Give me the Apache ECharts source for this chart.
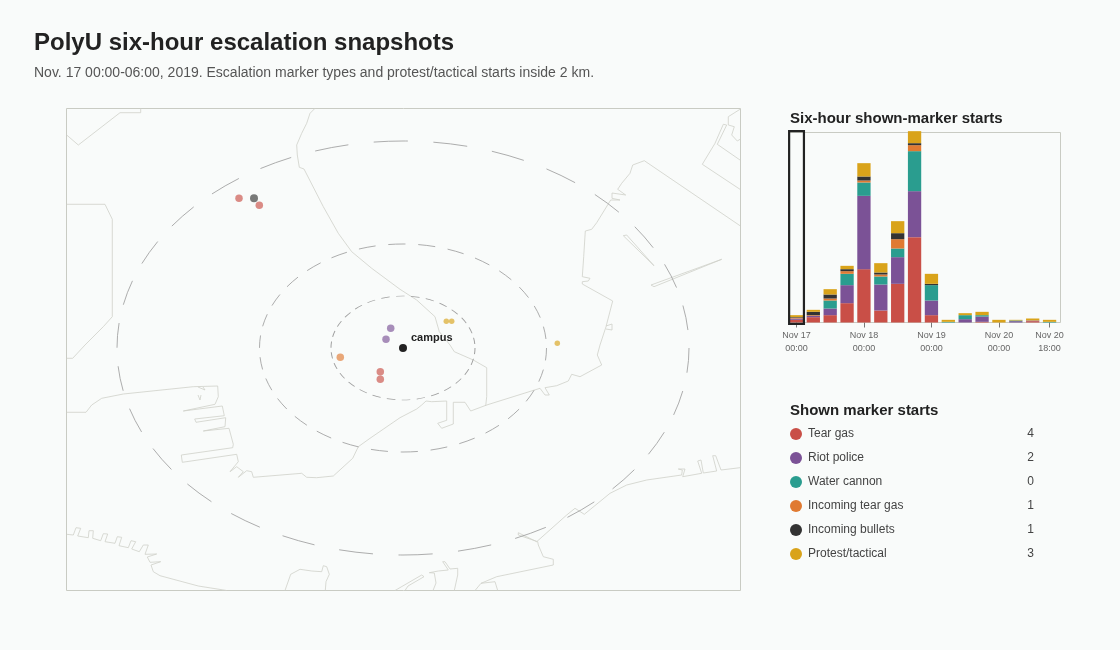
<!DOCTYPE html>
<html>
<head>
<meta charset="utf-8">
<style>html,body{margin:0;padding:0;background:#f9fbfa}#c{width:1120px;height:650px}</style>
<script src="https://cdn.jsdelivr.net/npm/echarts@6/dist/echarts.min.js"></script>
</head>
<body>
<div id="c"></div>
<script>
const markerTypes = ['Tear gas','Riot police','Water cannon','Incoming tear gas','Incoming bullets','Protest/tactical'];
const markerColors = ['#c94f47','#7b5296','#2a9d8f','#e07a32','#333333','#d9a31a'];
const markerDotSizes = [7.5,7.5,7.5,7.5,8,5.5];
const shownCounts = [4,2,0,1,1,3];

const binStarts = ['Nov 17\n00:00','Nov 17\n06:00','Nov 17\n12:00','Nov 17\n18:00',
  'Nov 18\n00:00','Nov 18\n06:00','Nov 18\n12:00','Nov 18\n18:00',
  'Nov 19\n00:00','Nov 19\n06:00','Nov 19\n12:00','Nov 19\n18:00',
  'Nov 20\n00:00','Nov 20\n06:00','Nov 20\n12:00','Nov 20\n18:00'];
const tearGasBins     = [4,8,11,29,80,18,58,128,11,0,0,1,0,0,2,0];
const riotPoliceBins  = [2,2,10,27,110,39,40,69,22,0,5,8,0,2,1,0];
const waterCannonBins = [0,0,12,17,20,12,13,60,23,1,6,2,0,1,0,1];
const incomingGasBins = [1,1,3,4,3,3,14,9,0,0,0,0,0,0,0,0];
const incomingBulBins = [1,5,6,3,6,3,9,3,2,0,0,0,0,0,0,0];
const protestBins     = [3,3,8,5,20,14,18,18,15,3,3,5,4,1,3,3];
const binSeries = [tearGasBins,riotPoliceBins,waterCannonBins,incomingGasBins,incomingBulBins,protestBins];
const binTickIndex = [0,4,8,12,15];
const highlightedBins = [0];

const tearGasPts  = [[239,198.3],[259.3,205.3],[380.3,371.7],[380.3,379.3]];
const riotPts     = [[390.7,328.3],[386,339.3]];
const waterPts    = [];
const inGasPts    = [[340.3,357.3]];
const inBulletPts = [[254,198.3]];
const protestPts  = [[446.3,321.3],[451.7,321.3],[557.3,343.3]];
const markerPts = [tearGasPts,riotPts,waterPts,inGasPts,inBulletPts,protestPts];
const campusPt = [403,348];
const rings = [[403,348,72,52],[403,348,143.5,104],[403,348,286,207]];

const mapLines = [
 [[66.7,135],[78.3,145],[120,112.7],[140.7,112.7],[140.7,108.3]],
 [[66.7,204.3],[105,204.3],[112.3,219.3],[112.3,316.7],[103.3,326.7],[85,345],[72.7,358.3],[66.7,358.3]],
 [[315,108.3],[310,113.3],[306.7,123.3],[301.7,133.3],[296.7,145],[297.3,155],[299.3,167.3],[304,169],[323.3,206.7],[338.3,233.3],[351.7,251.7],[371.7,268.3],[400,289.3],[416.7,300],[435,316.7],[439.3,331.7],[450,345],[454.3,351.7],[473.3,360],[486.7,367.7],[486.7,396.7],[485.7,406]],
 [[740,109.3],[728.3,116.7],[728.3,125],[734.3,126.7],[731.7,135],[737.3,141],[740,139.3]],
 [[740,160],[717.3,144.3],[726.7,125],[723.3,124.3],[715,143.3],[702.3,164.3],[740,189.3]],
 [[740,225.7],[644.3,160.7],[632.7,165],[630,173.3],[621.7,183.3],[617.7,189.3],[625.7,195],[612,193],[612,198.3],[620,200],[610.7,200],[596.7,222.7],[591.7,229.3],[585.3,231],[583.7,256.7],[582.3,276.7],[590,278.3],[588.3,281],[582.3,281.7],[582.3,284],[612.7,301],[606,326.7],[600,345],[597.3,355],[601.7,365],[580,376.7],[571.7,374.3],[568.3,381],[556.7,385.7],[545,387.7],[549.3,395],[545,395],[540,388.3],[486.7,405],[470.7,411],[465,402.3],[453.3,402.3],[453.3,424],[441.7,428.3],[437.7,423.3],[446.7,420.3],[446.7,401],[431.7,401.7],[426,401],[421.7,405],[416.7,409],[400,417.7],[370,438.3],[358.3,446.7],[352.7,458.3],[333.3,476],[316.7,477.7],[306.7,477.3],[301.7,473.3],[253.3,477.3],[251.7,471.7],[246.7,470.7],[238.3,477.3],[243.3,471.7],[236.7,466.7],[230,471.7],[238.3,461.7],[236.7,454.3],[182.3,462.3],[181.3,455],[232.7,447.7],[233.3,444.3],[229,428.3],[203.3,431],[225,426.7],[225.7,417.7],[196,422.3],[194.7,419],[224.3,415.7],[222.3,406],[183.3,411],[183.3,409],[215,404.3],[218.3,396.7],[217.7,386],[193.3,386.7],[123.3,394],[101.7,398.3],[91.7,405],[86,412.3],[66.7,412.3]],
 [[198,395],[200,400],[201,395]],
 [[198,387],[205,390],[203,387]],
 [[66.7,534.3],[73.3,535],[76,527.7],[80.7,528.3],[77.7,536],[88.3,537.7],[89,530.7],[93.3,530.7],[92.7,538.3],[100.7,540.7],[103.3,533.7],[107.7,534],[105,541.7],[115,543.3],[117.3,536.7],[121.7,537.3],[119,545.7],[128.3,547.7],[131,540.7],[135.7,541.7],[131.7,549],[139.3,551.7],[143.3,545],[148.3,545],[145,554.3],[156.7,554],[157.3,555.7],[147.3,557],[150,562.3],[160.7,561.7],[161.7,563.3],[151,565],[153.3,571.7],[160,575.7],[198.3,586],[226.7,590.5]],
 [[285,590.5],[290.7,574.3],[300,569.3],[311.7,571],[321.7,571.7],[323.3,565.7],[326.7,566.7],[329.3,574.3],[326,581.7],[325.3,590.5]],
 [[395,590.5],[421.7,575],[424,576.7],[408,586],[405,590.5]],
 [[433,590.5],[436,583],[434.3,573],[429.3,572.7],[438.3,571],[448.3,570],[442.7,561.7],[445,561.7],[450,569],[457.7,568.3],[457.7,575],[454.3,590.5]],
 [[475,590.5],[481,583.3],[496.7,576.7],[553.3,565],[553.3,559.3],[543.3,556.7],[538.3,545],[537.7,541.7],[518.3,535],[518.3,532.7],[536.7,541.7],[566.7,515],[575,508.3],[584.3,514.3],[610,493.3],[626.7,485],[646.7,480],[681.7,475],[682.3,470],[678.3,469],[685,469],[682.7,476.7],[701.7,473.3],[697.7,461],[701,460],[703.3,473],[716.7,471],[712.7,455.7],[715.7,455.7],[721,470],[740,467.7]],
 [[481,583.3],[495,581.7],[497.7,590.5]],
 [[623.3,235.7],[626.7,235],[654,265.7],[652.7,267.7],[623.3,235.7]],
 [[651,285],[721.7,259.3],[721.7,261.3],[654,286.7],[651,285]],
 [[606,326],[612,324],[612,330],[606,329]]
];

const INK = '#222222', FRAME = '#c9cbc3', COAST = '#cfd1c9', FONT = '"Liberation Sans", Arial, sans-serif';
const series = [];

binSeries.forEach((vals, k) => series.push({
  type:'bar', name:markerTypes[k], xAxisIndex:1, yAxisIndex:1, stack:'bins', barWidth:13.3, clip:false,
  itemStyle:{color:markerColors[k]}, data:vals, silent:true
}));
series.push({
  type:'custom', xAxisIndex:1, yAxisIndex:1, silent:true, clip:false, z:5,
  data:highlightedBins.map(i=>[i,0]), encode:{x:0,y:1},
  renderItem(params, api){
    const p = api.coord([api.value(0),0]);
    return {type:'rect', shape:{x:p[0]-7.4+0.1, y:131.2, width:14.8, height:p[1]+1.4-131.2},
      style:{fill:'none', stroke:INK, lineWidth:2.2}};
  }
});
mapLines.forEach(line => series.push({
  type:'line', xAxisIndex:0, yAxisIndex:0, data:line, symbol:'none', silent:true, z:1,
  lineStyle:{color:COAST, width:0.8}
}));
series.push({
  type:'custom', xAxisIndex:0, yAxisIndex:0, silent:true, z:2, data:rings, encode:{x:0,y:1},
  renderItem(params, api){
    const c = api.coord([api.value(0),api.value(1)]);
    const s = api.size([api.value(2),api.value(3)]);
    const sx = s[0]/100, sy = s[1]/100;
    return {type:'circle', x:c[0], y:c[1], scaleX:sx, scaleY:sy, shape:{cx:0,cy:0,r:100},
      style:{fill:'none', stroke:'#9f9f9f', lineWidth:0.85/Math.sqrt(sx*sy), lineDash:[12,8.944]}};
  }
});
markerPts.forEach((pts,k) => series.push({
  type:'scatter', name:markerTypes[k], xAxisIndex:0, yAxisIndex:0, data:pts, symbolSize:markerDotSizes[k], silent:true, z:3,
  itemStyle:{color:markerColors[k], opacity:0.65}
}));
series.push({
  type:'scatter', xAxisIndex:0, yAxisIndex:0, data:[campusPt], symbolSize:8, silent:true, z:4,
  itemStyle:{color:INK, opacity:1},
  label:{show:true, position:'right', formatter:'campus', offset:[-1,-10], color:INK, fontSize:11, fontWeight:'bold', fontFamily:FONT}
});

const chart = echarts.init(document.getElementById('c'), null, {renderer:'canvas'});
chart.setOption({
  animation:false,
  backgroundColor:'#f9fbfa',
  textStyle:{fontFamily:FONT},
  title:[
    {text:'PolyU six-hour escalation snapshots', left:29, top:26, textStyle:{fontSize:24, fontWeight:'bold', color:INK, fontFamily:FONT}},
    {text:'Nov. 17 00:00-06:00, 2019. Escalation marker types and protest/tactical starts inside 2 km.', left:29, top:61, textStyle:{fontSize:14, fontWeight:'normal', color:'#555555', fontFamily:FONT}},
    {text:'Six-hour shown-marker starts', left:785, top:106, textStyle:{fontSize:15, fontWeight:'bold', color:INK, fontFamily:FONT}},
    {text:'Shown marker starts', left:785, top:398, textStyle:{fontSize:15, fontWeight:'bold', color:INK, fontFamily:FONT}}
  ],
  grid:[
    {left:66.5, top:108.5, width:674, height:482, show:true, borderColor:FRAME, borderWidth:1, backgroundColor:'transparent'},
    {left:788, top:132.5, width:270, height:190, show:false},
    {left:788.5, top:132.5, width:272, height:190, show:true, borderColor:FRAME, borderWidth:1, backgroundColor:'transparent'}
  ],
  xAxis:[
    {type:'value', gridIndex:0, min:66.5, max:740.5, show:false},
    {type:'category', gridIndex:1, data:binStarts, splitLine:{show:false},
     axisLine:{show:false},
     axisTick:{show:true, length:5, alignWithLabel:true, interval:i=>binTickIndex.includes(i), lineStyle:{color:'#777777'}},
     axisLabel:{show:true, interval:i=>binTickIndex.includes(i), fontSize:9, lineHeight:13, color:'#666666', margin:7, fontFamily:FONT}},
    {type:'value', gridIndex:2, min:0, max:1, show:false}
  ],
  yAxis:[
    {type:'value', gridIndex:0, min:108.5, max:590.5, inverse:true, show:false},
    {type:'value', gridIndex:1, min:0, max:285, show:false},
    {type:'value', gridIndex:2, min:0, max:1, show:false}
  ],
  legend:{
    left:785, top:423, orient:'vertical', itemWidth:12, itemHeight:12, itemGap:12, icon:'circle',
    selectedMode:false, data:markerTypes,
    formatter:name=>`{n|${name}}{c|${shownCounts[markerTypes.indexOf(name)]}}`,
    textStyle:{color:'#444444', fontSize:12, fontFamily:FONT,
      rich:{n:{width:214, padding:[0,0,0,1], fontSize:12, color:'#444444', lineHeight:14, fontFamily:FONT},
            c:{width:12, align:'right', fontSize:12, color:'#444444', lineHeight:14, fontFamily:FONT}}}
  },
  series
});
</script>
</body>
</html>
